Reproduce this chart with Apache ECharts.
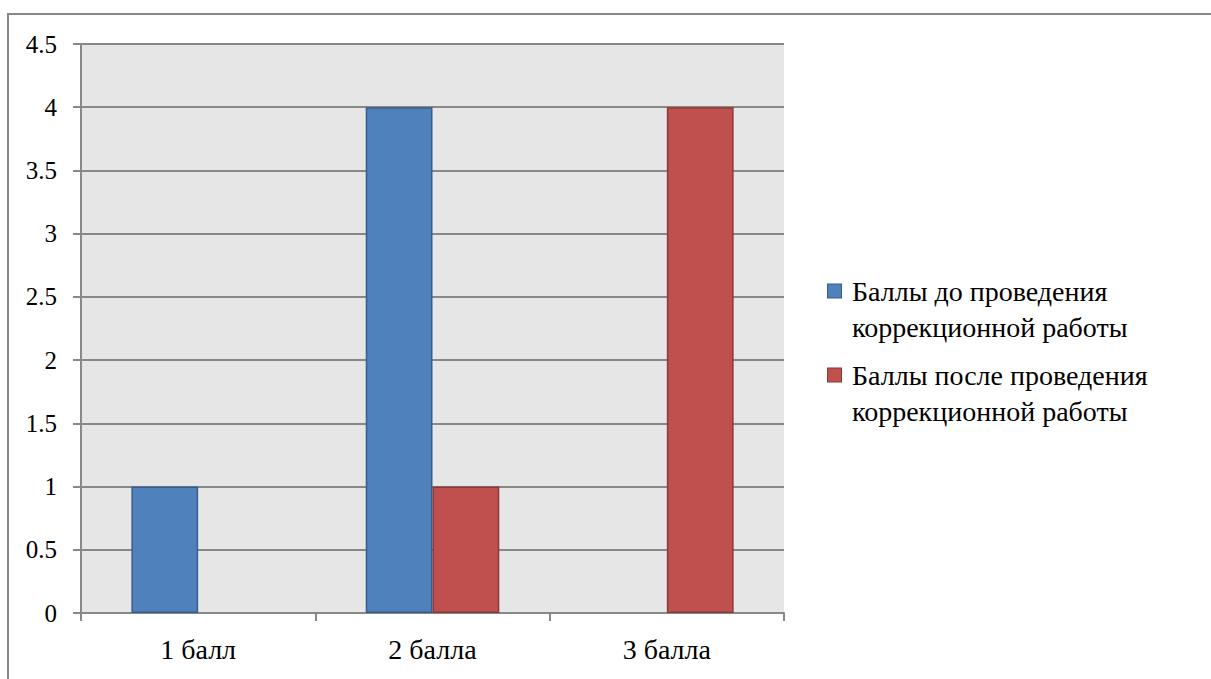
<!DOCTYPE html>
<html>
<head>
<meta charset="utf-8">
<script src="https://cdn.jsdelivr.net/npm/echarts@6/dist/echarts.min.js"></script>
<style>
  html, body { margin: 0; padding: 0; background: #ffffff; }
  #chart { width: 1211px; height: 679px; }
  /* serif face for every label of the chart */
  #chart svg text, #chart svg tspan { font-family: 'Liberation Serif', 'Times New Roman', serif !important; }
</style>
</head>
<body>
<div id="chart"></div>
<script>
// Score distribution before and after the correctional work
const categories = ['1 балл', '2 балла', '3 балла'];
const seriesNames = ['Баллы до проведения коррекционной работы', 'Баллы после проведения коррекционной работы'];
const legendLines = [
  ['Баллы до проведения', 'коррекционной работы'],
  ['Баллы после проведения', 'коррекционной работы']
];
const beforeValues = [1, 4, 0];
const afterValues = [0, 1, 4];
const yTicks = [0, 0.5, 1, 1.5, 2, 2.5, 3, 3.5, 4, 4.5];

const colors = ['#4f81bd', '#c0504d'];
const borders = ['#385d8a', '#8c3836'];
const font = "'Liberation Serif', 'Times New Roman', serif";

// empty cells stay empty instead of drawing a flat outline on the axis
const toBars = arr => arr.map(v => (v === 0 ? '-' : v));

const chart = echarts.init(document.getElementById('chart'), null, { renderer: 'svg' });

const legendRich = {
  t: { fontFamily: font, fontSize: 28, color: '#000', lineHeight: 36 },
  sp: { width: 24, height: 14 },
  g: { width: 11, height: 14 }
};
colors.forEach((c, i) => {
  legendRich['m' + i] = { width: 13, height: 13, backgroundColor: c, borderColor: borders[i], borderWidth: 1 };
});

chart.setOption({
  animation: false,
  backgroundColor: '#ffffff',
  textStyle: { fontFamily: font },
  graphic: [{
    type: 'rect',
    shape: { x: 8, y: 14, width: 1240, height: 720 },
    style: { fill: 'none', stroke: '#888888', lineWidth: 2 },
    silent: true
  }],
  grid: {
    left: 81, top: 44, right: 427, bottom: 66,
    show: true, backgroundColor: '#e6e6e6', borderWidth: 0
  },
  legend: {
    orient: 'vertical',
    left: 818,
    top: 272,
    itemGap: 20,
    icon: 'none',
    itemWidth: 0,
    itemHeight: 0,
    selectedMode: false,
    data: seriesNames,
    formatter: function (name) {
      const i = seriesNames.indexOf(name);
      return '{m' + i + '|}{g|}{t|' + legendLines[i][0] + '}\n{sp|}{t|' + legendLines[i][1] + '}';
    },
    textStyle: { rich: legendRich, fontFamily: font, fontSize: 28, color: '#000' }
  },
  xAxis: {
    type: 'category',
    data: categories,
    axisLine: { lineStyle: { color: '#888888', width: 2 } },
    axisTick: { show: true, length: 8, lineStyle: { color: '#888888', width: 2 } },
    axisLabel: { fontFamily: font, fontSize: 28, color: '#000', margin: 22 },
    splitLine: { show: false }
  },
  yAxis: {
    type: 'value',
    min: 0, max: 4.5, interval: 0.5,
    axisLine: { show: true, lineStyle: { color: '#888888', width: 2 } },
    axisTick: { show: true, length: 8, lineStyle: { color: '#888888', width: 2 } },
    axisLabel: {
      fontFamily: font, fontSize: 25, color: '#000', margin: 24,
      formatter: v => yTicks.includes(v) ? String(v) : ''
    },
    splitLine: { show: true, lineStyle: { color: '#888888', width: 2 } }
  },
  series: [
    {
      name: seriesNames[0], type: 'bar', data: toBars(beforeValues),
      barGap: '0%', barCategoryGap: '43%',
      itemStyle: { color: colors[0], borderColor: borders[0], borderWidth: 1.5 }
    },
    {
      name: seriesNames[1], type: 'bar', data: toBars(afterValues),
      barGap: '0%', barCategoryGap: '43%',
      itemStyle: { color: colors[1], borderColor: borders[1], borderWidth: 1.5 }
    }
  ]
});
</script>
</body>
</html>
